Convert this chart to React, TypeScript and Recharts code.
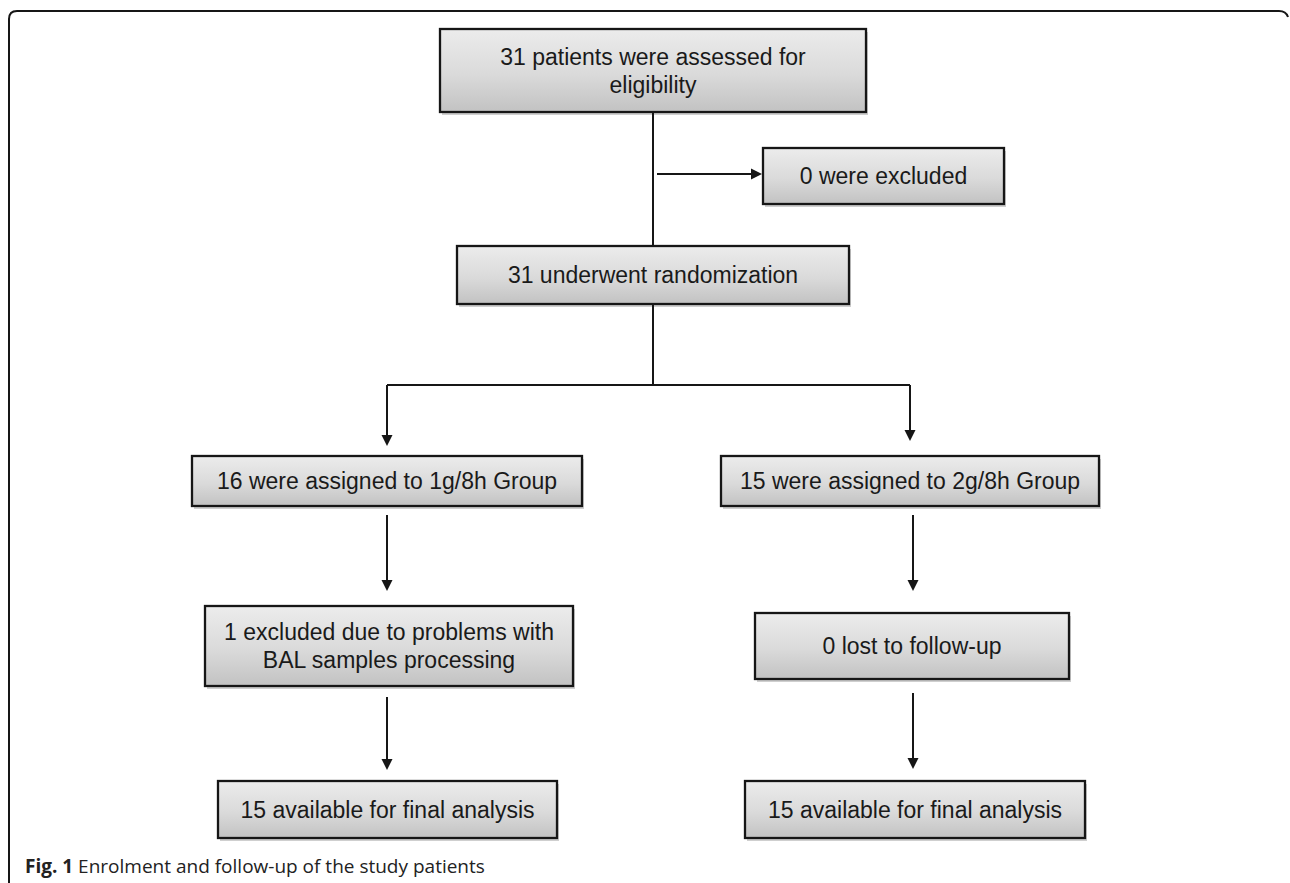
import { ComposedChart, XAxis, YAxis, ReferenceArea, ReferenceLine } from 'recharts';

// Flow diagram nodes (diagram units: 1 unit = 1 px on the page)
const boxLabels: string[][] = [
  ['31 patients were assessed for', 'eligibility'],
  ['0 were excluded'],
  ['31 underwent randomization'],
  ['16 were assigned to 1g/8h Group'],
  ['15 were assigned to 2g/8h Group'],
  ['1 excluded due to problems with', 'BAL samples processing'],
  ['0 lost to follow-up'],
  ['15 available for final analysis'],
  ['15 available for final analysis'],
];
const boxLeft = [440, 763, 457, 192, 721, 205, 755, 218, 745];
const boxRight = [866, 1004, 849, 582, 1099, 573, 1069, 557, 1085];
const boxTop = [29, 148, 246, 456, 456, 606, 613, 781, 781];
const boxBottom = [112, 204, 304, 506, 506, 686, 679, 838, 838];

// Connectors: start point, end point, arrowhead at end?
const linkStart = [
  [653, 112], [657, 174], [653, 304], [387, 385], [387, 385],
  [910, 385], [387, 515], [387, 697], [913, 515], [913, 693],
];
const linkEnd = [
  [653, 246], [762, 174], [653, 385], [910, 385], [387, 446],
  [910, 441], [387, 591], [387, 770], [913, 591], [913, 769],
];
const linkArrow = [false, true, false, false, true, true, true, true, true, true];

const W = 1290;
const H = 883;
const INK = '#161616';
const FONT = '"Liberation Sans", Arial, sans-serif';

function BoxShape(props: any) {
  const { x, y, width, height, lines } = props;
  const cx = x + width / 2;
  const cy = y + height / 2;
  const lh = 28;
  const first = cy - ((lines.length - 1) * lh) / 2;
  return (
    <g>
      <rect x={x + 2} y={y + 3} width={width} height={height} fill="#cfcfcf" />
      <rect x={x} y={y} width={width} height={height} fill="url(#boxFill)" stroke={INK} strokeWidth={2.3} />
      {lines.map((t: string, i: number) => (
        <text
          key={i}
          x={cx}
          y={first + i * lh}
          textAnchor="middle"
          dominantBaseline="central"
          fontFamily={FONT}
          fontSize={23}
          fill="#1a1a1a"
        >
          {t}
        </text>
      ))}
    </g>
  );
}

function LinkShape(props: any) {
  const { x1, y1, x2, y2, arrow } = props;
  if (!arrow) {
    return <line x1={x1} y1={y1} x2={x2} y2={y2} stroke={INK} strokeWidth={2} />;
  }
  const len = Math.hypot(x2 - x1, y2 - y1) || 1;
  const ux = (x2 - x1) / len;
  const uy = (y2 - y1) / len;
  const head = 11;
  const half = 5.5;
  const bx = x2 - ux * head;
  const by = y2 - uy * head;
  return (
    <g>
      <line x1={x1} y1={y1} x2={bx} y2={by} stroke={INK} strokeWidth={2} />
      <polygon
        points={`${x2},${y2} ${bx - uy * half},${by + ux * half} ${bx + uy * half},${by - ux * half}`}
        fill={INK}
      />
    </g>
  );
}

export default function App() {
  return (
    <div style={{ width: W, height: H, background: '#fff' }}>
      <style>{'body{margin:0}'}</style>
      <ComposedChart width={W} height={H} margin={{ top: 0, right: 0, bottom: 0, left: 0 }}>
        <defs>
          <linearGradient id="boxFill" x1="0" y1="0" x2="0" y2="1">
            <stop offset="0%" stopColor="#ececec" />
            <stop offset="55%" stopColor="#dadada" />
            <stop offset="100%" stopColor="#c2c2c2" />
          </linearGradient>
        </defs>
        <XAxis type="number" dataKey="x" domain={[0, W]} hide allowDataOverflow />
        <YAxis type="number" dataKey="y" domain={[0, H]} reversed hide allowDataOverflow />
        <path
          d={`M9,${H} L9,19 Q9,11 17,11 L1279,11 Q1286,11 1288,17`}
          fill="none"
          stroke={INK}
          strokeWidth={2}
        />
        {linkStart.map((s, i) => (
          <ReferenceLine
            key={`l${i}`}
            segment={[{ x: s[0], y: s[1] }, { x: linkEnd[i][0], y: linkEnd[i][1] }]}
            ifOverflow="visible"
            shape={(p: any) => <LinkShape {...p} arrow={linkArrow[i]} />}
          />
        ))}
        {boxLabels.map((lines, i) => (
          <ReferenceArea
            key={`b${i}`}
            x1={boxLeft[i]}
            x2={boxRight[i]}
            y1={boxTop[i]}
            y2={boxBottom[i]}
            ifOverflow="visible"
            shape={(p: any) => <BoxShape {...p} lines={lines} />}
          />
        ))}
        <text x={25} y={873} fontFamily='"Open Sans", "Noto Sans", sans-serif' fontSize={19} fill="#222">
          <tspan fontWeight="bold">Fig. 1</tspan>
          <tspan> Enrolment and follow-up of the study patients</tspan>
        </text>
      </ComposedChart>
    </div>
  );
}
